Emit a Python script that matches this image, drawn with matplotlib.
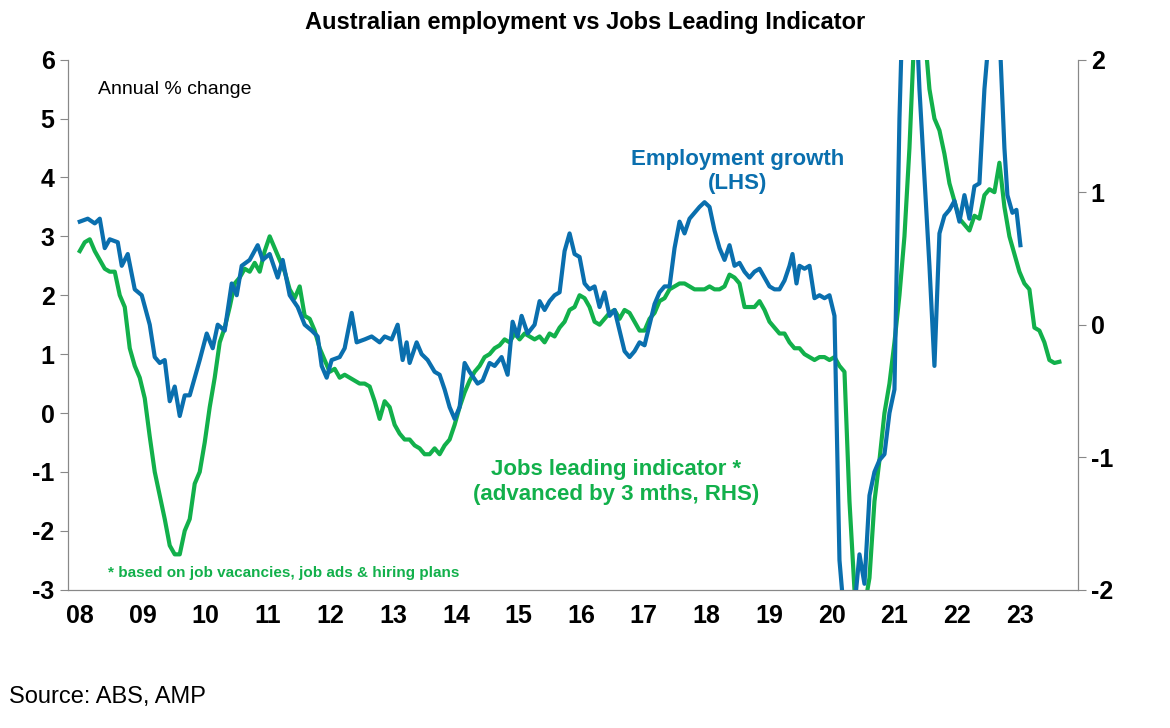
import numpy as np
import matplotlib.pyplot as plt

plt.rcParams['font.family'] = ['Liberation Sans', 'DejaVu Sans']
plt.rcParams['font.weight'] = 'bold'
plt.rcParams['axes.unicode_minus'] = False

BLUE = '#0A6FAE'
GREEN = '#12B04B'


def to_year(pos):
    # positions read along the time axis, 62.7 per year starting Jan 2008
    return 2008 + (np.array(pos) - 80) / 62.7


# Employment growth, annual % change (LHS)
emp_pos = [80, 88, 95, 100, 105, 110, 118, 122, 128, 135, 142, 150, 155, 160, 165, 170, 175, 180, 185, 190,
           200, 207, 213, 218, 225, 232, 237, 242, 250, 258, 263, 270, 278, 283, 290, 298, 305, 312, 318, 322,
           327, 332, 340, 345, 352, 357, 365, 372, 380, 385, 392, 398, 403, 407, 410, 417, 422, 428, 435, 440,
           445, 450, 455, 460, 465, 470, 478, 483, 490, 495, 502, 508, 513, 518, 522, 528, 535, 540, 545, 550,
           555, 560, 565, 570, 575, 580, 585, 590, 595, 600, 605, 610, 615, 620, 625, 630, 635, 640, 645, 650,
           655, 660, 665, 670, 675, 680, 685, 690, 695, 700, 705, 710, 715, 720, 725, 730, 735, 740, 745, 750,
           755, 760, 765, 770, 775, 780, 785, 790, 793, 797, 800, 805, 810, 815, 820, 825, 830, 835, 840, 845,
           855, 860, 865, 870, 875, 880, 885, 890, 895, 900, 905, 915, 920, 925, 930, 935, 940, 945, 950, 955,
           960, 965, 970, 975, 980, 985, 990, 995, 1000, 1005, 1008, 1013, 1017, 1021]
emp_val = [3.25, 3.3, 3.22, 3.3, 2.8, 2.95, 2.9, 2.5, 2.7, 2.1, 2.0, 1.5, 0.95, 0.85, 0.9, 0.2, 0.45, -0.05, 0.3, 0.3,
           0.9, 1.35, 1.1, 1.5, 1.4, 2.2, 2.0, 2.5, 2.6, 2.85, 2.6, 2.7, 2.3, 2.6, 2.0, 1.8, 1.5, 1.4, 1.3, 0.8,
           0.6, 0.9, 0.95, 1.1, 1.7, 1.2, 1.25, 1.3, 1.2, 1.3, 1.25, 1.5, 0.9, 1.2, 0.85, 1.2, 1.0, 0.9, 0.7, 0.65,
           0.4, 0.1, -0.1, 0.1, 0.85, 0.7, 0.5, 0.55, 0.85, 0.8, 0.95, 0.65, 1.55, 1.3, 1.65, 1.35, 1.5, 1.9, 1.75, 1.9,
           2.0, 2.05, 2.75, 3.05, 2.7, 2.65, 2.2, 2.1, 2.15, 1.8, 2.05, 1.65, 1.75, 1.4, 1.05, 0.95, 1.05, 1.2, 1.15, 1.5,
           1.85, 2.05, 2.15, 2.15, 2.8, 3.25, 3.05, 3.3, 3.4, 3.5, 3.58, 3.5, 3.1, 2.8, 2.6, 2.85, 2.5, 2.55, 2.4, 2.3,
           2.4, 2.45, 2.3, 2.15, 2.1, 2.1, 2.25, 2.5, 2.7, 2.2, 2.5, 2.45, 2.5, 1.95, 2.0, 1.95, 2.0, 1.65, -2.5, -3.5,
           -3.3, -2.4, -2.9, -1.4, -1.0, -0.8, -0.7, 0.0, 0.4, 5.0, 8.0, 7.5, 5.5, 4.0, 2.5, 0.8, 3.05, 3.35, 3.45, 3.6,
           3.25, 3.7, 3.3, 3.85, 3.9, 5.5, 6.5, 7.0, 6.5, 4.5, 3.7, 3.4, 3.45, 2.85]

# Jobs leading indicator, advanced 3 months (RHS), read in left-axis units
jli_pos = list(range(80, 1065, 5))
jli_lhs = [2.75, 2.9, 2.95, 2.75, 2.6, 2.45, 2.4, 2.4, 2.0, 1.8, 1.1, 0.8, 0.6, 0.25, -0.4, -1.0, -1.4, -1.8, -2.25, -2.4,
           -2.4, -2.0, -1.8, -1.2, -1.0, -0.5, 0.1, 0.6, 1.2, 1.45, 1.8, 2.2, 2.3, 2.45, 2.4, 2.55, 2.4, 2.75, 3.0, 2.8,
           2.6, 2.4, 2.1, 1.95, 2.15, 1.65, 1.6, 1.4, 1.1, 0.9, 0.7, 0.75, 0.6, 0.65, 0.6, 0.55, 0.5, 0.5, 0.45, 0.2,
           -0.1, 0.2, 0.1, -0.2, -0.35, -0.45, -0.45, -0.55, -0.6, -0.7, -0.7, -0.6, -0.7, -0.55, -0.45, -0.2, 0.1, 0.35, 0.55, 0.7,
           0.8, 0.95, 1.0, 1.1, 1.15, 1.25, 1.2, 1.35, 1.25, 1.35, 1.3, 1.25, 1.3, 1.2, 1.35, 1.3, 1.45, 1.55, 1.75, 1.8,
           2.0, 1.95, 1.8, 1.55, 1.5, 1.6, 1.7, 1.75, 1.6, 1.75, 1.7, 1.55, 1.4, 1.4, 1.6, 1.7, 1.9, 1.95, 2.1, 2.15,
           2.2, 2.2, 2.15, 2.1, 2.1, 2.1, 2.15, 2.1, 2.1, 2.15, 2.35, 2.3, 2.2, 1.8, 1.8, 1.8, 1.9, 1.75, 1.55, 1.45,
           1.35, 1.35, 1.2, 1.1, 1.1, 1.0, 0.95, 0.9, 0.95, 0.95, 0.9, 0.95, 0.8, 0.7, -1.5, -3.0, -3.3, -3.3, -2.8, -1.5,
           -0.8, 0.0, 0.5, 1.2, 2.0, 3.0, 4.5, 6.5, 7.0, 6.5, 5.5, 5.0, 4.8, 4.4, 3.9, 3.6, 3.3, 3.2, 3.1, 3.35,
           3.3, 3.7, 3.8, 3.75, 4.25, 3.5, 3.0, 2.7, 2.4, 2.2, 2.1, 1.45, 1.4, 1.2, 0.9, 0.85, 0.87]
jli_rhs = (np.array(jli_lhs) - 1.5) * 4 / 9

fig = plt.figure(figsize=(11.7, 7.28), dpi=100)
ax = fig.add_axes([0.058, 0.19, 0.863, 0.728])
ax2 = ax.twinx()

ax.plot(to_year(emp_pos), emp_val, color=BLUE, lw=3, zorder=3)
ax2.plot(to_year(jli_pos), jli_rhs, color=GREEN, lw=3)
ax.set_zorder(ax2.get_zorder() + 1)
ax.patch.set_visible(False)

ax.set_xlim(2007.81, 2023.92)
ax.set_ylim(-3, 6)
ax2.set_ylim(-2, 2)
ax.set_xticks(range(2008, 2024))
ax.set_xticklabels([f'{y % 100:02d}' for y in range(2008, 2024)])
ax.set_yticks(range(-3, 7))
ax2.set_yticks([-2, -1, 0, 1, 2])
ax.tick_params(axis='x', length=0, labelsize=18, pad=10)
ax.tick_params(axis='y', labelsize=18, length=6, color='#888888')
ax2.tick_params(axis='y', labelsize=18, length=6, color='#888888')
for a in (ax, ax2):
    a.spines['top'].set_visible(False)
    for s in ('left', 'right', 'bottom'):
        a.spines[s].set_color('#888888')

fig.suptitle('Australian employment vs Jobs Leading Indicator', fontsize=17, fontweight='bold', y=0.985)
ax.text(0.03, 0.96, 'Annual % change', transform=ax.transAxes, fontsize=14, fontweight='normal', va='top')
ax.text(2018.5, 4.1, 'Employment growth\n(LHS)', color=BLUE, fontsize=16, ha='center', va='center')
ax.text(2016.55, -1.17, 'Jobs leading indicator *\n(advanced by 3 mths, RHS)', color=GREEN, fontsize=16,
        ha='center', va='center')
ax.text(2008.45, -2.72, '* based on job vacancies, job ads & hiring plans', color=GREEN, fontsize=11,
        va='center')
fig.text(0.008, 0.035, 'Source: ABS, AMP', fontsize=17, fontweight='normal')

fig.savefig('out.png', dpi=100)
